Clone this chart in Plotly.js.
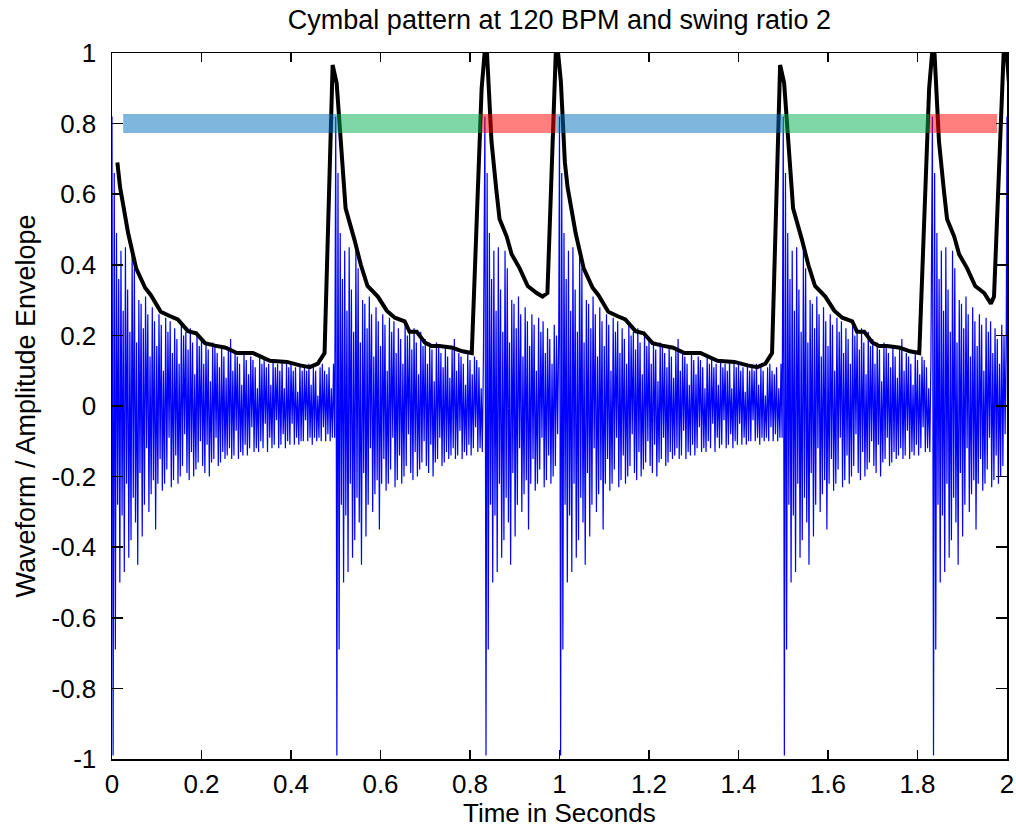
<!DOCTYPE html>
<html>
<head>
<meta charset="utf-8">
<script src="https://cdn.plot.ly/plotly-3.0.1.min.js"></script>
<style>
  html, body { margin: 0; padding: 0; background: #fff; }
  #chart { width: 1016px; height: 829px; }
</style>
</head>
<body>
<div id="chart"></div>
<script>
// ---------- DATA ----------
// One cymbal hit, as plotted, sample spacing in seconds
const sampleDt = 0.0025;
const cymbalSample = [
  0.82, -0.99, 0.66, -0.69, 0.49, -0.28, 0.36, -0.50, 0.44, -0.31,
  0.27, -0.47, 0.45, -0.22, 0.33, -0.43, 0.21, -0.38, 0.44, -0.26,
  0.39, -0.33, 0.18, -0.45, 0.30, -0.19, 0.29, -0.37, 0.22, -0.28,
  0.31, -0.12, 0.26, -0.30, 0.14, -0.25, 0.28, -0.21, 0.24, -0.35,
  0.17, -0.22, 0.26, -0.15, 0.23, -0.24, 0.10, -0.22, 0.25, -0.18,
  0.21, -0.09, 0.24, -0.23, 0.15, -0.21, 0.22, -0.14, 0.19, -0.22,
  0.12, -0.20, 0.23, -0.17, 0.20, -0.08, 0.21, -0.19, 0.16, -0.21,
  0.22, -0.13, 0.18, -0.20, 0.09, -0.18, 0.21, -0.16, 0.17, -0.10,
  0.19, -0.17, 0.12, -0.19, 0.18, -0.11, 0.16, -0.20, 0.07, -0.16,
  0.18, -0.15, 0.17, -0.09, 0.15, -0.17, 0.11, -0.16, 0.17, -0.13,
  0.14, -0.15, 0.08, -0.14, 0.16, -0.12, 0.19, -0.15, 0.10, -0.14,
  0.15, -0.07, 0.14, -0.15, 0.12, -0.13, 0.06, -0.14, 0.15, -0.11,
  0.13, -0.14, 0.09, -0.12, 0.14, -0.06, 0.13, -0.13, 0.11, -0.12,
  0.05, -0.13, 0.14, -0.10, 0.12, -0.12, 0.13, -0.05, 0.11, -0.13,
  0.12, -0.09, 0.06, -0.12, 0.13, -0.11, 0.11, -0.04, 0.12, -0.12,
  0.10, -0.11, 0.13, -0.08, 0.05, -0.12, 0.12, -0.10, 0.11, -0.11,
  0.12, -0.05, 0.10, -0.11, 0.11, -0.09, 0.04, -0.11, 0.12, -0.10,
  0.10, -0.10, 0.11, -0.04, 0.10, -0.10, 0.12, -0.09, 0.06, -0.11,
  0.11, -0.09, 0.10, -0.10, 0.03, -0.09, 0.11, -0.10, 0.12, -0.06,
  0.10, -0.10, 0.09, -0.08, 0.11, -0.10, 0.05, -0.09, 0.12, -0.09
];
// Hit start times (s) and how many samples of each hit are drawn before the next
const hitTimes   = [0, 0.5, 0.8333, 1.0, 1.5, 1.8333, 2.0];
const hitLengths = [200, 133, 67, 200, 133, 67, 3];

// Amplitude envelope (black line)
const envT = [
  0.012, 0.018, 0.025, 0.036, 0.054, 0.074, 0.087, 0.109, 0.129, 0.147,
  0.170, 0.188, 0.208, 0.230, 0.254, 0.279, 0.315, 0.353, 0.391, 0.420,
  0.442, 0.460, 0.475, 0.493, 0.502, 0.522, 0.542, 0.556, 0.571, 0.594,
  0.614, 0.632, 0.654, 0.665, 0.681, 0.699, 0.714, 0.732, 0.761, 0.783,
  0.804, 0.826, 0.836, 0.848, 0.859, 0.866, 0.882, 0.893, 0.911, 0.929,
  0.949, 0.962, 0.973, 0.993, 1.003,
  1.012, 1.018, 1.025, 1.036, 1.054, 1.074, 1.087, 1.109, 1.129, 1.147,
  1.170, 1.188, 1.208, 1.230, 1.254, 1.279, 1.315, 1.353, 1.391, 1.420,
  1.442, 1.460, 1.475, 1.493, 1.502, 1.522, 1.542, 1.556, 1.571, 1.594,
  1.614, 1.632, 1.654, 1.665, 1.681, 1.699, 1.714, 1.732, 1.761, 1.783,
  1.804, 1.826, 1.836, 1.848, 1.859, 1.866, 1.882, 1.893, 1.911, 1.929,
  1.949, 1.964, 1.971, 1.995, 2.004
];
const envV = [
  0.69, 0.62, 0.57, 0.49, 0.39, 0.335, 0.314, 0.267, 0.255, 0.245,
  0.212, 0.206, 0.178, 0.171, 0.165, 0.150, 0.150, 0.128, 0.125, 0.115,
  0.110, 0.120, 0.150, 0.966, 0.915, 0.56, 0.47, 0.40, 0.34, 0.31,
  0.27, 0.25, 0.24, 0.21, 0.21, 0.18, 0.17, 0.17, 0.165, 0.155,
  0.150, 0.90, 1.05, 0.75, 0.61, 0.53, 0.48, 0.43, 0.39, 0.34,
  0.32, 0.31, 0.32, 1.05, 0.92,
  0.69, 0.62, 0.57, 0.49, 0.39, 0.335, 0.314, 0.267, 0.255, 0.245,
  0.212, 0.206, 0.178, 0.171, 0.165, 0.150, 0.150, 0.128, 0.125, 0.115,
  0.110, 0.120, 0.150, 0.966, 0.915, 0.56, 0.47, 0.40, 0.34, 0.31,
  0.27, 0.25, 0.24, 0.21, 0.21, 0.18, 0.17, 0.17, 0.165, 0.155,
  0.150, 0.90, 1.05, 0.75, 0.61, 0.53, 0.48, 0.43, 0.39, 0.34,
  0.32, 0.29, 0.31, 1.08, 0.92
];

// Note bars (swing pattern)
const noteStart = [0.025, 0.502, 0.826, 0.993, 1.498, 1.826];
const noteEnd   = [0.502, 0.826, 0.993, 1.498, 1.826, 1.978];
const noteKind  = ['long', 'mid', 'short', 'long', 'mid', 'short'];
const noteLevel = 0.8;

// Tick labels
const xTickVals = [0, 0.2, 0.4, 0.6, 0.8, 1, 1.2, 1.4, 1.6, 1.8, 2];
const xTickText = ['0', '0.2', '0.4', '0.6', '0.8', '1', '1.2', '1.4', '1.6', '1.8', '2'];
const yTickVals = [-1, -0.8, -0.6, -0.4, -0.2, 0, 0.2, 0.4, 0.6, 0.8, 1];
const yTickText = ['-1', '-0.8', '-0.6', '-0.4', '-0.2', '0', '0.2', '0.4', '0.6', '0.8', '1'];

const titleText = 'Cymbal pattern at 120 BPM and swing ratio 2';
const xTitle = 'Time in Seconds';
const yTitle = 'Waveform / Amplitude Envelope';

// ---------- BUILD ----------
const waveX = [], waveY = [];
hitTimes.forEach((t0, h) => {
  for (let i = 0; i < hitLengths[h]; i++) {
    waveX.push(t0 + i * sampleDt);
    waveY.push(cymbalSample[i]);
  }
});

const kindColor = {
  long:  'rgba(0,110,190,0.5)',
  mid:   'rgba(0,176,82,0.5)',
  short: 'rgba(255,0,0,0.5)'
};

const traces = [
  { x: waveX, y: waveY, type: 'scatter', mode: 'lines',
    line: { color: '#0000ff', width: 1.2, simplify: false }, hoverinfo: 'skip' },
  { x: envT, y: envV, type: 'scatter', mode: 'lines',
    line: { color: '#000000', width: 4, simplify: false }, hoverinfo: 'skip' }
];
noteStart.forEach((s, i) => {
  traces.push({
    x: [s, noteEnd[i]], y: [noteLevel, noteLevel], type: 'scatter', mode: 'lines',
    line: { color: kindColor[noteKind[i]], width: 19 }, hoverinfo: 'skip'
  });
});

const font = 'Liberation Sans, Arial, Helvetica, sans-serif';
const axisCommon = {
  showgrid: false, zeroline: false, showline: true, mirror: 'ticks',
  linecolor: '#000', linewidth: 1.5, ticks: 'inside', tickcolor: '#000', tickwidth: 1.5,
  tickfont: { family: font, size: 26, color: '#000' }, tickmode: 'array'
};

const layout = {
  width: 1016, height: 829,
  margin: { l: 112, r: 9, t: 53, b: 70, pad: 0 },
  paper_bgcolor: '#fff', plot_bgcolor: '#fff',
  showlegend: false,
  font: { family: font, color: '#000' },
  title: { text: titleText, font: { family: font, size: 27, color: '#000' },
           x: 0.5, xref: 'paper', y: 1 - 20 / 829, yref: 'container', yanchor: 'middle' },
  xaxis: Object.assign({}, axisCommon, {
    range: [0, 2], tickvals: xTickVals, ticktext: xTickText, ticklen: 9,
    ticklabelstandoff: 1
  }),
  yaxis: Object.assign({}, axisCommon, {
    range: [-1, 1], tickvals: yTickVals, ticktext: yTickText, ticklen: 11,
    ticklabelstandoff: 9,
    title: { text: yTitle, font: { family: font, size: 27, color: '#000' }, standoff: 8 }
  }),
  annotations: [{
    text: xTitle, xref: 'paper', yref: 'paper', x: 0.5, y: -54 / 706,
    xanchor: 'center', yanchor: 'middle', showarrow: false, borderpad: 0,
    font: { family: font, size: 26, color: '#000' }
  }]
};

Plotly.newPlot('chart', traces, layout, { displayModeBar: false, staticPlot: true });
</script>
</body>
</html>
